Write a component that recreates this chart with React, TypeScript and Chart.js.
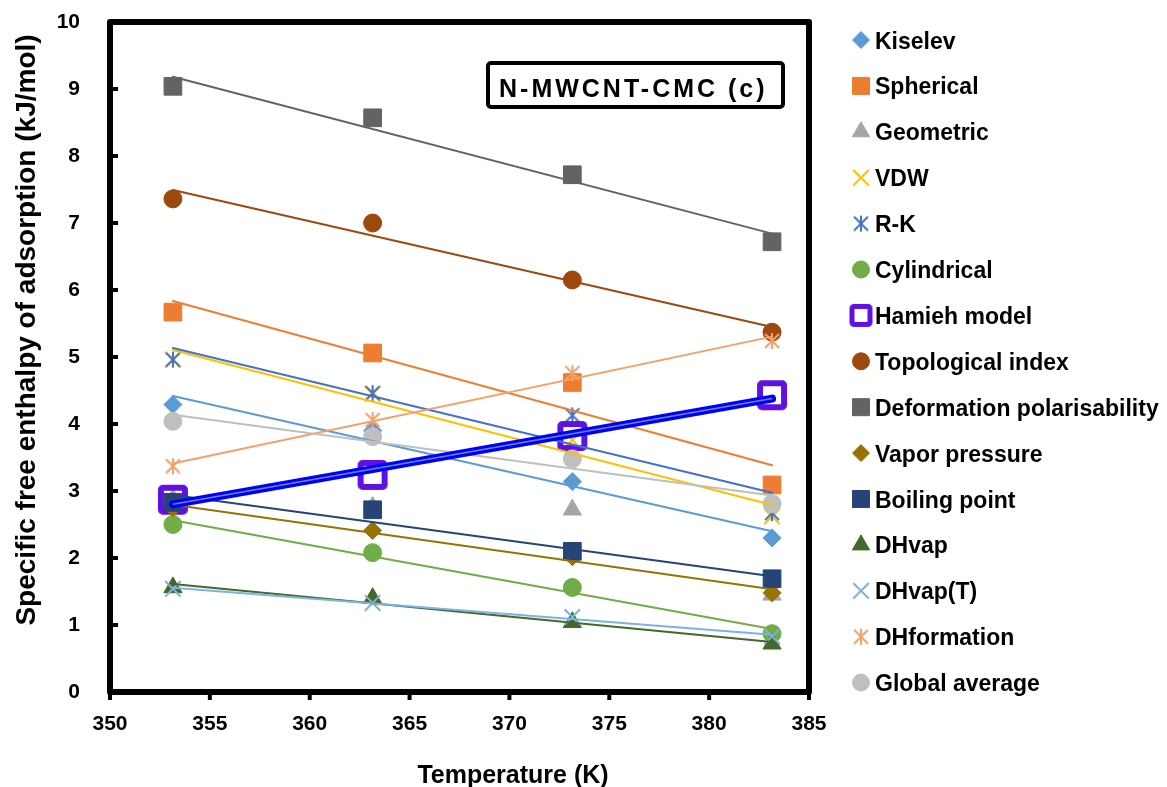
import React, { useEffect, useRef } from 'react';
import { Chart, registerables } from 'chart.js';
import { drawPoint } from 'chart.js/helpers';

Chart.register(...registerables);

// ---------- data ----------
const temperatures = [353.15, 363.15, 373.15, 383.15];

const kiselev = [4.29, 3.9, 3.14, 2.3];
const spherical = [5.67, 5.06, 4.62, 3.09];
const geometric = [2.88, 2.76, 2.72, 1.45];
const vdw = [4.96, 4.45, 3.76, 2.62];
const rk = [4.96, 4.46, 4.13, 2.67];
const cylindrical = [2.5, 2.08, 1.56, 0.87];
const hamieh = [2.87, 3.24, 3.82, 4.43];
const topological = [7.36, 7.0, 6.15, 5.37];
const deformation = [9.04, 8.57, 7.72, 6.72];
const vaporPressure = [2.75, 2.41, 2.02, 1.48];
const boilingPoint = [2.83, 2.72, 2.1, 1.69];
const dhvap = [1.56, 1.4, 1.04, 0.72];
const dhvapT = [1.54, 1.33, 1.12, 0.83];
const dhformation = [3.37, 4.06, 4.76, 5.24];
const globalAverage = [4.04, 3.81, 3.48, 2.81];

const xTickValues = [350, 355, 360, 365, 370, 375, 380, 385];
const yTickValues = [0, 1, 2, 3, 4, 5, 6, 7, 8, 9, 10];

const chartTitle = 'N-MWCNT-CMC (c)';
const xTitle = 'Temperature (K)';
const yTitle = 'Specific free enthalpy of adsorption (kJ/mol)';

// ---------- helpers ----------
function makeAsterisk(color: string, size: number, lw: number): HTMLCanvasElement {
  const c = document.createElement('canvas');
  c.width = size;
  c.height = size;
  const g = c.getContext('2d')!;
  const m = size / 2;
  const a = size / 2 - 2;
  g.strokeStyle = color;
  g.lineWidth = lw;
  g.lineCap = 'butt';
  g.beginPath();
  g.moveTo(m - a, m - a);
  g.lineTo(m + a, m + a);
  g.moveTo(m + a, m - a);
  g.lineTo(m - a, m + a);
  g.moveTo(m, m - a - 1);
  g.lineTo(m, m + a + 1);
  g.stroke();
  return c;
}

function makeHollowSquare(color: string, outer: number, lw: number): HTMLCanvasElement {
  const c = document.createElement('canvas');
  c.width = outer + 2;
  c.height = outer + 2;
  const g = c.getContext('2d')!;
  g.strokeStyle = color;
  g.lineWidth = lw;
  g.lineJoin = 'round';
  const o = 1 + lw / 2;
  const s = outer - lw;
  g.beginPath();
  (g as any).roundRect(o, o, s, s, 2);
  g.stroke();
  return c;
}

function trend(xs: number[], ys: number[]) {
  const n = xs.length;
  const mx = xs.reduce((s, v) => s + v, 0) / n;
  const my = ys.reduce((s, v) => s + v, 0) / n;
  let sxy = 0;
  let sxx = 0;
  for (let i = 0; i < n; i++) {
    sxy += (xs[i] - mx) * (ys[i] - my);
    sxx += (xs[i] - mx) * (xs[i] - mx);
  }
  const b = sxy / sxx;
  const a = my - b * mx;
  return [
    { x: xs[0], y: a + b * xs[0] },
    { x: xs[n - 1], y: a + b * xs[n - 1] },
  ];
}

type Series = {
  label: string;
  values: number[];
  color: string;
  style: any;
  radius: number;
  legendRadius: number;
  border: number;
  fill: boolean;
  trend: boolean;
  kind?: string;
};

const series: Series[] = [
  { label: 'Kiselev', values: kiselev, color: '#5B9BD5', style: 'rectRot', radius: 9, legendRadius: 8.5, border: 1, fill: true, trend: true },
  { label: 'Spherical', values: spherical, color: '#ED7D31', style: 'rect', radius: 12.5, legendRadius: 12, border: 1, fill: true, trend: true },
  { label: 'Geometric', values: geometric, color: '#A5A5A5', style: 'triangle', radius: 10.5, legendRadius: 10, border: 1, fill: true, trend: false },
  { label: 'VDW', values: vdw, color: '#FFC000', style: 'crossRot', radius: 11, legendRadius: 11, border: 2, fill: false, trend: true },
  { label: 'R-K', values: rk, color: '#4472C4', style: 'ast', radius: 8, legendRadius: 8, border: 2, fill: false, trend: true, kind: 'asterisk' },
  { label: 'Cylindrical', values: cylindrical, color: '#70AD47', style: 'circle', radius: 9, legendRadius: 8.5, border: 1, fill: true, trend: true },
  { label: 'Hamieh model', values: hamieh, color: '#6010E0', style: 'hollow', radius: 15, legendRadius: 12, border: 6, fill: false, trend: true, kind: 'hollow' },
  { label: 'Topological index', values: topological, color: '#9E480E', style: 'circle', radius: 9, legendRadius: 8.5, border: 1, fill: true, trend: true },
  { label: 'Deformation polarisability', values: deformation, color: '#636363', style: 'rect', radius: 12.5, legendRadius: 12, border: 1, fill: true, trend: true },
  { label: 'Vapor pressure', values: vaporPressure, color: '#997300', style: 'rectRot', radius: 9, legendRadius: 8.5, border: 1, fill: true, trend: true },
  { label: 'Boiling point', values: boilingPoint, color: '#264478', style: 'rect', radius: 12.5, legendRadius: 12, border: 1, fill: true, trend: true },
  { label: 'DHvap', values: dhvap, color: '#43682B', style: 'triangle', radius: 10.5, legendRadius: 10, border: 1, fill: true, trend: true },
  { label: 'DHvap(T)', values: dhvapT, color: '#7EB2E0', style: 'crossRot', radius: 11, legendRadius: 11, border: 2, fill: false, trend: true },
  { label: 'DHformation', values: dhformation, color: '#F4A06A', style: 'ast', radius: 8, legendRadius: 8, border: 2, fill: false, trend: true, kind: 'asterisk' },
  { label: 'Global average', values: globalAverage, color: '#BFBFBF', style: 'circle', radius: 9, legendRadius: 8.5, border: 1, fill: true, trend: true },
];

const FONT = '"Liberation Sans", Arial, sans-serif';

export default function App() {
  const ref = useRef<HTMLCanvasElement>(null);

  useEffect(() => {
    if (!ref.current) return;

    const styles = series.map((s) => {
      if (s.kind === 'asterisk') return makeAsterisk(s.color, 18, 2);
      if (s.kind === 'hollow') return makeHollowSquare(s.color, 30, 6);
      return s.style;
    });
    const legendStyles = series.map((s, i) => {
      if (s.kind === 'asterisk') return makeAsterisk(s.color, 18, 2);
      if (s.kind === 'hollow') return makeHollowSquare(s.color, 23, 5);
      return styles[i];
    });

    const datasets: any[] = [];
    series.forEach((s, i) => {
      datasets.push({
        label: s.label,
        data: temperatures.map((t, k) => ({ x: t, y: s.values[k] })),
        showLine: false,
        pointStyle: styles[i],
        pointRadius: s.radius,
        pointHoverRadius: s.radius,
        pointBorderWidth: s.border,
        pointBorderColor: s.color,
        pointBackgroundColor: s.fill ? s.color : 'rgba(0,0,0,0)',
        order: 100 - i,
      });
    });
    series.forEach((s, i) => {
      if (!s.trend) return;
      const isHamieh = s.kind === 'hollow';
      datasets.push({
        label: s.label + ' trend',
        data: trend(temperatures, s.values),
        showLine: true,
        pointRadius: 0,
        borderColor: isHamieh ? '#0000FF' : s.color,
        borderWidth: isHamieh ? 8 : 2,
        borderCapStyle: 'round',
        order: isHamieh ? 10 : 50 - i,
      });
      if (isHamieh) {
        datasets.push({
          label: s.label + ' trend core',
          data: trend(temperatures, s.values),
          showLine: true,
          pointRadius: 0,
          borderColor: '#6E86B8',
          borderWidth: 1.5,
          order: 9,
        });
      }
    });

    const decor = {
      id: 'decor',
      afterDraw(chart: any) {
        const ctx = chart.ctx as CanvasRenderingContext2D;
        const a = chart.chartArea;
        const xs = chart.scales.x;
        const ys = chart.scales.y;
        ctx.save();
        // frame
        ctx.strokeStyle = '#000';
        ctx.lineWidth = 6;
        ctx.lineJoin = 'round';
        ctx.strokeRect(a.left, a.top, a.right - a.left, a.bottom - a.top);
        // y ticks (inside)
        ctx.lineWidth = 4;
        ctx.beginPath();
        yTickValues.forEach((v) => {
          const py = ys.getPixelForValue(v);
          ctx.moveTo(a.left, py);
          ctx.lineTo(a.left + 8, py);
        });
        // x ticks (outside)
        xTickValues.forEach((v) => {
          const px = xs.getPixelForValue(v);
          ctx.moveTo(px, a.bottom);
          ctx.lineTo(px, a.bottom + 8);
        });
        ctx.stroke();

        // axis titles
        ctx.fillStyle = '#000';
        ctx.font = `bold 25px ${FONT}`;
        ctx.textAlign = 'center';
        ctx.textBaseline = 'alphabetic';
        ctx.fillText(xTitle, 513, 783);
        ctx.save();
        ctx.translate(35, 330);
        ctx.rotate(-Math.PI / 2);
        ctx.font = `bold 28px ${FONT}`;
        ctx.fillText(yTitle, 0, 0);
        ctx.restore();

        // title box
        ctx.lineWidth = 4;
        ctx.beginPath();
        (ctx as any).roundRect(488, 63, 295, 44, 3);
        ctx.fillStyle = '#fff';
        ctx.fill();
        ctx.stroke();
        ctx.fillStyle = '#000';
        ctx.font = `bold 25px ${FONT}`;
        (ctx as any).letterSpacing = '3px';
        ctx.textAlign = 'left';
        ctx.fillText(chartTitle, 499, 97);
        (ctx as any).letterSpacing = '0px';

        // legend
        series.forEach((s, i) => {
          const cy = 40 + i * 45.9;
          const cx = 861;
          ctx.save();
          ctx.fillStyle = s.fill ? s.color : 'rgba(0,0,0,0)';
          ctx.strokeStyle = s.color;
          ctx.lineWidth = s.border;
          drawPoint(ctx, {
            pointStyle: legendStyles[i],
            radius: s.legendRadius,
            rotation: 0,
            borderWidth: s.border,
          } as any, cx, cy);
          ctx.restore();
          ctx.fillStyle = '#000';
          ctx.font = `bold 23px ${FONT}`;
          ctx.textAlign = 'left';
          ctx.textBaseline = 'alphabetic';
          ctx.fillText(s.label, 875, cy + 8.5);
        });
        ctx.restore();
      },
    };

    const chart = new Chart(ref.current, {
      type: 'scatter',
      data: { datasets },
      options: {
        animation: false,
        responsive: true,
        maintainAspectRatio: false,
        layout: { padding: { left: 0, top: 22, right: 358, bottom: 0 } },
        plugins: { legend: { display: false }, tooltip: { enabled: false } },
        events: [],
        scales: {
          x: {
            type: 'linear',
            min: 350,
            max: 385,
            afterFit: (s: any) => { s.height = 95; s.paddingLeft = 0; s.paddingRight = 0; },
            afterBuildTicks: (s: any) => { s.ticks = xTickValues.map((v) => ({ value: v })); },
            grid: { display: false },
            border: { display: false },
            ticks: {
              padding: 12,
              color: '#000',
              font: { family: FONT, weight: 'bold', size: 21 },
            },
          },
          y: {
            type: 'linear',
            min: 0,
            max: 10,
            afterFit: (s: any) => { s.width = 110; s.paddingTop = 0; s.paddingBottom = 0; },
            afterBuildTicks: (s: any) => { s.ticks = yTickValues.map((v) => ({ value: v })); },
            grid: { display: false },
            border: { display: false },
            ticks: {
              padding: 22,
              color: '#000',
              font: { family: FONT, weight: 'bold', size: 21 },
            },
          },
        },
      },
      plugins: [decor],
    } as any);

    return () => chart.destroy();
  }, []);

  return (
    <div style={{ position: 'fixed', left: 0, top: 0, width: 1167, height: 787, background: '#fff' }}>
      <canvas ref={ref} />
    </div>
  );
}
